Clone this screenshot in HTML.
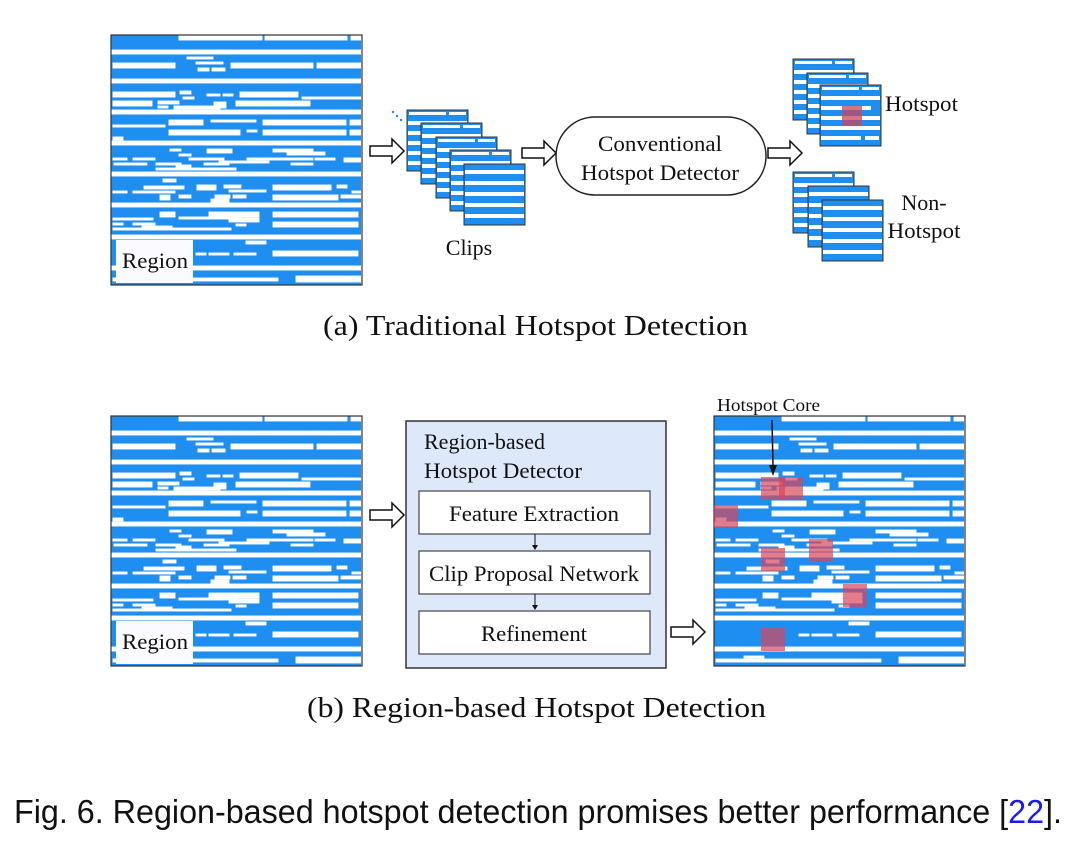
<!DOCTYPE html>
<html><head><meta charset="utf-8"><style>
html,body{margin:0;padding:0;background:#fff;}
svg{display:block;}
text{font-family:"Liberation Serif",serif;fill:#111;}
</style></head><body>
<svg width="1080" height="848" viewBox="0 0 1080 848" xmlns="http://www.w3.org/2000/svg">
<defs>
<g id="lay">
<rect x="0" y="0" width="250" height="250" fill="#1f8ef1"/>
<g fill="#fff" stroke="#fff" stroke-width="0.9">
<rect x="0" y="15" width="250" height="4"/><rect x="0" y="44" width="250" height="4"/><rect x="0" y="75" width="250" height="4"/><rect x="0" y="106" width="250" height="4"/><rect x="0" y="137" width="250" height="4"/><rect x="0" y="168" width="250" height="4"/><rect x="0" y="200" width="250" height="4"/><rect x="0" y="231" width="250" height="4"/>
<rect x="68" y="1" width="83" height="4"/><rect x="154" y="1" width="82" height="4"/><rect x="240" y="1" width="10" height="4"/>
<rect x="2" y="28" width="62" height="5"/><rect x="120" y="28" width="82" height="5"/><rect x="206" y="28" width="44" height="5"/>
<rect x="76" y="22" width="26" height="2"/><rect x="85" y="27" width="27" height="2"/><rect x="87" y="33" width="11" height="3"/><rect x="101" y="33" width="13" height="3"/>
<rect x="2" y="57" width="62" height="5"/><rect x="69" y="56" width="11" height="3"/><rect x="129" y="57" width="58" height="5"/><rect x="96" y="59" width="13" height="2"/><rect x="112" y="59" width="10" height="2"/><rect x="72" y="62" width="11" height="2"/><rect x="191" y="62" width="59" height="2"/>
<rect x="2" y="66" width="39" height="5"/><rect x="47" y="66" width="21" height="3"/><rect x="125" y="66" width="74" height="5"/><rect x="47" y="71" width="10" height="2"/><rect x="63" y="71" width="46" height="3"/><rect x="103" y="67" width="12" height="6"/>
<rect x="58" y="85" width="34" height="5"/><rect x="100" y="85" width="45" height="2"/><rect x="152" y="85" width="83" height="5"/><rect x="239" y="85" width="11" height="5"/><rect x="2" y="90" width="52" height="2"/><rect x="58" y="95" width="71" height="5"/><rect x="136" y="95" width="10" height="2"/><rect x="152" y="95" width="83" height="5"/><rect x="239" y="95" width="11" height="5"/><rect x="2" y="102" width="10" height="3"/>
<rect x="59" y="114" width="11" height="2"/><rect x="96" y="114" width="25" height="4"/><rect x="162" y="114" width="40" height="3"/><rect x="176" y="117" width="38" height="3"/><rect x="68" y="119" width="12" height="2"/><rect x="2" y="123" width="14" height="2"/><rect x="22" y="123" width="22" height="2"/><rect x="78" y="123" width="35" height="2"/><rect x="136" y="123" width="66" height="2"/><rect x="204" y="123" width="20" height="2"/><rect x="233" y="123" width="17" height="4"/><rect x="3" y="128" width="33" height="2"/><rect x="45" y="128" width="25" height="2"/><rect x="93" y="128" width="25" height="2"/><rect x="108" y="126" width="50" height="2"/><rect x="180" y="128" width="22" height="2"/><rect x="45" y="133" width="80" height="2"/><rect x="65" y="130" width="15" height="5"/><rect x="100" y="133" width="25" height="2"/>
<rect x="52" y="144" width="13" height="3"/><rect x="33" y="151" width="40" height="3"/><rect x="86" y="150" width="19" height="5"/><rect x="113" y="150" width="17" height="3"/><rect x="162" y="150" width="58" height="5"/><rect x="226" y="150" width="10" height="3"/><rect x="2" y="156" width="14" height="2"/><rect x="22" y="156" width="42" height="2"/><rect x="118" y="155" width="37" height="2"/><rect x="241" y="156" width="9" height="2"/><rect x="49" y="160" width="10" height="5"/><rect x="68" y="160" width="12" height="3"/><rect x="104" y="160" width="15" height="3"/><rect x="122" y="160" width="13" height="3"/><rect x="162" y="160" width="65" height="5"/><rect x="230" y="160" width="20" height="3"/><rect x="100" y="164" width="18" height="5"/>
<rect x="49" y="177" width="15" height="5"/><rect x="98" y="177" width="50" height="5"/><rect x="162" y="177" width="85" height="5"/><rect x="2" y="183" width="40" height="2"/><rect x="68" y="182" width="58" height="2"/><rect x="118" y="183" width="30" height="4"/><rect x="2" y="188" width="10" height="2"/><rect x="22" y="188" width="22" height="2"/><rect x="125" y="189" width="10" height="2"/><rect x="162" y="187" width="85" height="5"/><rect x="2" y="193" width="118" height="2"/><rect x="31" y="191" width="30" height="3"/>
<rect x="135" y="206" width="20" height="3"/><rect x="85" y="218" width="10" height="2"/><rect x="98" y="218" width="20" height="2"/><rect x="123" y="218" width="22" height="2"/><rect x="162" y="216" width="85" height="5"/>
<rect x="2" y="243" width="165" height="3"/><rect x="185" y="241" width="65" height="6"/><rect x="30" y="240" width="20" height="2"/>
</g>
</g>
<g id="clip">
<rect x="0" y="0" width="61" height="61" fill="#1f8ef1" stroke="#333" stroke-width="1"/>
<g fill="#fff">
<rect x="2" y="2" width="37" height="3"/><rect x="42" y="2" width="17" height="3"/>
<rect x="1" y="11" width="59" height="4"/><rect x="1" y="21" width="50" height="4"/><rect x="1" y="31" width="59" height="4"/><rect x="1" y="41" width="59" height="4"/><rect x="1" y="51" width="40" height="4"/><rect x="45" y="51" width="14" height="4"/>
</g>
</g>
<g id="clipb">
<rect x="0" y="0" width="61" height="61" fill="#1f8ef1" stroke="#333" stroke-width="1"/>
<g fill="#fff">
<rect x="1" y="6" width="59" height="4"/><rect x="1" y="17" width="59" height="4"/><rect x="1" y="28" width="59" height="4"/><rect x="1" y="39" width="59" height="4"/><rect x="1" y="50" width="59" height="4"/>
</g>
</g>
</defs>

<!-- (a) -->
<use href="#lay" x="111" y="35"/>
<rect x="111" y="35" width="251" height="250" fill="none" stroke="#333" stroke-width="1.2"/>
<rect x="116" y="240" width="77" height="43" fill="#fbfbff"/>
<text x="122" y="268" font-size="22" textLength="66" lengthAdjust="spacingAndGlyphs">Region</text>

<polygon points="370,146 392,146 392,139 404,151 392,163 392,156 370,156" fill="#fff" stroke="#111" stroke-width="1.5"/>
<circle cx="393" cy="112" r="1.2" fill="#1f8ef1"/><circle cx="397" cy="116" r="1.2" fill="#1f8ef1"/><circle cx="401" cy="120" r="1.2" fill="#1f8ef1"/>

<use href="#clip" x="407" y="110"/>
<use href="#clip" x="421" y="123"/>
<use href="#clip" x="436" y="137"/>
<use href="#clip" x="450" y="150"/>
<use href="#clipb" x="464" y="164"/>
<text x="469" y="255" font-size="22" text-anchor="middle">Clips</text>

<polygon points="522,148 544,148 544,141 556,153 544,165 544,158 522,158" fill="#fff" stroke="#111" stroke-width="1.5"/>
<rect x="556" y="117" width="210" height="78" rx="39" ry="39" fill="#fff" stroke="#222" stroke-width="1.5"/>
<text x="660" y="151" font-size="22" text-anchor="middle" textLength="124" lengthAdjust="spacingAndGlyphs">Conventional</text>
<text x="660" y="180" font-size="22" text-anchor="middle" textLength="158" lengthAdjust="spacingAndGlyphs">Hotspot Detector</text>

<polygon points="768,148 790,148 790,141 802,153 790,165 790,158 768,158" fill="#fff" stroke="#111" stroke-width="1.5"/>

<use href="#clip" x="793" y="59"/>
<use href="#clip" x="807" y="73"/>
<use href="#clip" x="820" y="85"/>
<rect x="842" y="106" width="20" height="20" fill="rgba(200,70,90,0.75)"/>
<text x="885" y="111" font-size="22" textLength="73" lengthAdjust="spacingAndGlyphs">Hotspot</text>

<use href="#clip" x="793" y="172"/>
<use href="#clipb" x="808" y="186"/>
<use href="#clipb" x="822" y="200"/>
<text x="924" y="210" font-size="22" text-anchor="middle">Non-</text>
<text x="924" y="238" font-size="22" text-anchor="middle" textLength="73" lengthAdjust="spacingAndGlyphs">Hotspot</text>

<text x="323" y="335" font-size="28" textLength="425" lengthAdjust="spacingAndGlyphs">(a)  Traditional Hotspot Detection</text>

<!-- (b) -->
<use href="#lay" x="111" y="416"/>
<rect x="111" y="416" width="251" height="250" fill="none" stroke="#333" stroke-width="1.2"/>
<rect x="116" y="621" width="77" height="43" fill="#fbfbff"/>
<text x="122" y="649" font-size="22" textLength="66" lengthAdjust="spacingAndGlyphs">Region</text>

<polygon points="370,510 392,510 392,503 404,515 392,527 392,520 370,520" fill="#fff" stroke="#111" stroke-width="1.5"/>

<rect x="406" y="421" width="260" height="247" fill="#dde9fb" stroke="#333" stroke-width="1.5"/>
<text x="424" y="449" font-size="22">Region-based</text>
<text x="424" y="478" font-size="22" textLength="158" lengthAdjust="spacingAndGlyphs">Hotspot Detector</text>
<rect x="419" y="491" width="231" height="43" fill="#fff" stroke="#444" stroke-width="1.2"/>
<text x="534" y="521" font-size="22" text-anchor="middle" textLength="170" lengthAdjust="spacingAndGlyphs">Feature Extraction</text>
<rect x="419" y="551" width="231" height="43" fill="#fff" stroke="#444" stroke-width="1.2"/>
<text x="534" y="581" font-size="22" text-anchor="middle" textLength="210" lengthAdjust="spacingAndGlyphs">Clip Proposal Network</text>
<rect x="419" y="611" width="231" height="43" fill="#fff" stroke="#444" stroke-width="1.2"/>
<text x="534" y="641" font-size="22" text-anchor="middle" textLength="106" lengthAdjust="spacingAndGlyphs">Refinement</text>
<line x1="535" y1="534" x2="535" y2="546" stroke="#111" stroke-width="1"/>
<polygon points="532,545 538,545 535,550" fill="#111"/>
<line x1="535" y1="594" x2="535" y2="606" stroke="#111" stroke-width="1"/>
<polygon points="532,605 538,605 535,610" fill="#111"/>

<polygon points="671,627 693,627 693,620 705,632 693,644 693,637 671,637" fill="#fff" stroke="#111" stroke-width="1.5"/>

<use href="#lay" x="714" y="416"/>
<rect x="714" y="416" width="251" height="250" fill="none" stroke="#333" stroke-width="1.2"/>
<g fill="rgba(215,70,90,0.7)">
<rect x="761" y="477" width="24" height="23"/><rect x="779" y="477" width="24" height="23"/>
<rect x="714" y="505" width="24" height="23"/>
<rect x="761" y="548" width="24" height="23"/>
<rect x="809" y="539" width="24" height="23"/>
<rect x="843" y="584" width="24" height="23"/>
<rect x="761" y="628" width="24" height="23"/>
</g>
<text x="717" y="411" font-size="18" textLength="103" lengthAdjust="spacingAndGlyphs">Hotspot Core</text>
<line x1="772" y1="420" x2="773" y2="466" stroke="#111" stroke-width="1.5"/>
<polygon points="769,465 777,465 773,476" fill="#111"/>

<text x="307" y="717" font-size="28" textLength="459" lengthAdjust="spacingAndGlyphs">(b)  Region-based Hotspot Detection</text>

<text x="14" y="823" font-size="33" textLength="1048" lengthAdjust="spacingAndGlyphs" style="font-family:'Liberation Sans',sans-serif">Fig. 6.  Region-based hotspot detection promises better performance [<tspan fill="#1a1aee">22</tspan>].</text>
</svg>
</body></html>
